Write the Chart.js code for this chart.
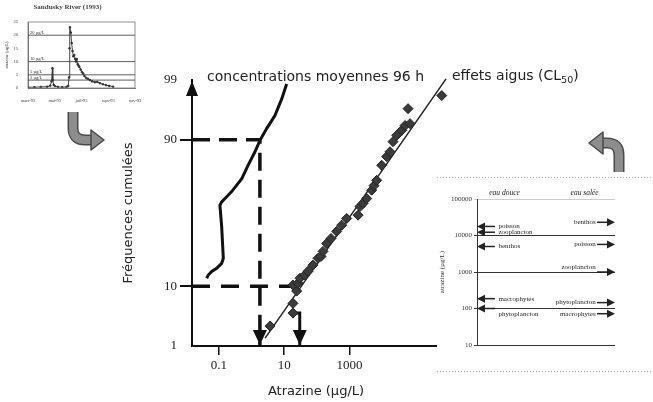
<!DOCTYPE html>
<html>
<head>
<meta charset="utf-8">
<script src="https://cdn.jsdelivr.net/npm/chart.js@4.4.0/dist/chart.umd.min.js"></script>
<style>
  html, body { margin: 0; padding: 0; background: #fff; }
  #wrap { position: relative; width: 653px; height: 402px; overflow: hidden; }
  canvas { position: absolute; }
  #main { left: 0; top: 0; }
  #river { left: 0; top: 0; }
  #effects { left: 437px; top: 177px; background: #fff; }
</style>
</head>
<body>
<div id="wrap">
  <canvas id="main" width="653" height="402"></canvas>
  <canvas id="river" width="155" height="108"></canvas>
  <canvas id="effects" width="216" height="196"></canvas>
</div>
<script>
// --- main chart: cumulative frequencies (%) vs atrazine (µg/L) ---
const concValues = [0.042, 0.047, 0.060, 0.085, 0.121, 0.136, 0.121, 0.107, 0.121, 0.153, 0.245, 0.50, 0.78, 1.27, 1.81, 2.9, 5.2, 8.4, 11.9];
const concFreq   = [12.7, 13.9, 15.3, 16.7, 18.9, 21.4, 40.7, 55.4, 57.7, 60.0, 64.6, 72.6, 79.8, 85.8, 89.8, 93.0, 95.6, 97.7, 98.8];

const lc50Values = [3.7, 18.6, 18.6, 24.2, 18.6, 26.5, 30.5, 43, 54, 76, 109, 135, 155, 201, 273, 408, 580, 826, 1840, 2115, 2610, 3395, 4830, 5690, 6870, 9790, 13900, 17600, 21700, 28200, 40200, 50800, 72300, 62800, 678000];
const lc50Freq   = [2.4, 4.0, 5.7, 8.6, 10.4, 11.0, 12.7, 13.9, 15.4, 18.1, 21.4, 22.4, 25.1, 29.7, 32.8, 37.4, 41.6, 46.2, 48.5, 54.5, 56.6, 60.0, 65.5, 68.4, 71.6, 79.8, 83.8, 85.8, 89.4, 91.3, 92.6, 93.7, 94.1, 96.6, 98.0];

const fitValues = [2.6, 920000];
const fitFreq   = [1.43, 99.05];

const freqTicks = [1, 10, 90, 99];
const xTickValues = [0.1, 10, 1000];
const xMin = 0.0149, xMax = 600000;

const conc90 = 1.8;          // concentration reached by 90 % of the 96 h means
const tox10 = 21.4;          // toxicity at 10 %
const hc5Values = [18.6, 30];
const hc5Freq = 4.0;

// --- inset: Sandusky River (1993) ---
const riverDays = [0, 15, 30, 45, 52, 55, 57, 58, 60, 63, 70, 80, 90, 94, 96, 97, 98, 100, 102, 104, 106, 108, 110, 112, 114, 116, 118, 120, 123, 126, 129, 132, 136, 140, 145, 150, 156, 162, 168, 175, 182, 190, 199];
const riverConc = [0.3, 0.3, 0.4, 0.5, 0.9, 2.5, 7.5, 3, 1.2, 0.7, 0.4, 0.3, 0.4, 0.8, 4, 15, 23, 21, 17, 14, 12, 12.5, 11, 10, 11, 9, 8.5, 8, 7, 6, 5.5, 4.5, 3.8, 3.5, 3, 2.5, 2.2, 2.3, 1.8, 1.4, 1.1, 0.8, 0.5];
const riverLevels = [20, 10, 5, 3];
const riverLevelLabels = ['20 µg/L', '10 µg/L', '5 µg/L', '3 µg/L'];
const riverTickDays = [0, 62.5, 125, 187.5, 250];
const riverTickLabels = ['mars-93', 'mai-93', 'juil-93', 'sept-93', 'nov-93'];

// --- inset: acute effects, eau douce / eau salée ---
const fwGroups = ['poisson', 'zooplancton', 'benthos', 'macrophytes', 'phytoplancton'];
const fwLC50   = [17700, 12300, 5000, 186, 100];
const swGroups = ['benthos', 'poisson', 'zooplancton', 'phytoplancton', 'macrophytes'];
const swLC50   = [23000, 5700, 1000, 145, 72];
const effTicks = [10, 100, 1000, 10000, 100000];

// inverse normal CDF (probability paper)
function probit(p) {
  const a = [-39.69683028665376, 220.9460984245205, -275.9285104469687, 138.3577518672690, -30.66479806614716, 2.506628277459239];
  const b = [-54.47609879822406, 161.5858368580409, -155.6989798598866, 66.80131188771972, -13.28068155288572];
  const c = [-0.007784894002430293, -0.3223964580411365, -2.400758277161838, -2.549732539343734, 4.374664141464968, 2.938163982698783];
  const d = [0.007784695709041462, 0.3224671290700398, 2.445134137142996, 3.754408661907416];
  const pl = 0.02425;
  let q, r;
  if (p < pl) {
    q = Math.sqrt(-2 * Math.log(p));
    return (((((c[0]*q+c[1])*q+c[2])*q+c[3])*q+c[4])*q+c[5]) / ((((d[0]*q+d[1])*q+d[2])*q+d[3])*q+1);
  }
  if (p > 1 - pl) {
    q = Math.sqrt(-2 * Math.log(1 - p));
    return -(((((c[0]*q+c[1])*q+c[2])*q+c[3])*q+c[4])*q+c[5]) / ((((d[0]*q+d[1])*q+d[2])*q+d[3])*q+1);
  }
  q = p - 0.5; r = q * q;
  return (((((a[0]*r+a[1])*r+a[2])*r+a[3])*r+a[4])*r+a[5])*q / (((((b[0]*r+b[1])*r+b[2])*r+b[3])*r+b[4])*r+1);
}
const toZ = pct => probit(pct / 100);
const pts = (xs, ps) => xs.map((x, i) => ({ x: x, y: toZ(ps[i]) }));

function downHead(ctx, x, y) {
  ctx.beginPath();
  ctx.moveTo(x, y);
  ctx.lineTo(x - 7, y - 15);
  ctx.lineTo(x + 7, y - 15);
  ctx.closePath();
  ctx.fill();
}

function bentArrow(ctx, shaft, head) {
  ctx.save();
  ctx.lineCap = 'butt';
  ctx.lineJoin = 'round';
  ctx.strokeStyle = '#4a4a4a';
  ctx.lineWidth = 11;
  shaft(ctx); ctx.stroke();
  ctx.strokeStyle = '#8d8d8d';
  ctx.lineWidth = 8;
  shaft(ctx); ctx.stroke();
  head(ctx);
  ctx.fillStyle = '#8d8d8d';
  ctx.fill();
  ctx.strokeStyle = '#4a4a4a';
  ctx.lineWidth = 1.5;
  ctx.stroke();
  ctx.restore();
}

const mainDecor = {
  id: 'mainDecor',
  afterDraw(chart) {
    const ctx = chart.ctx, xs = chart.scales.x, ys = chart.scales.y;
    const area = chart.chartArea;
    ctx.save();
    ctx.fillStyle = '#111';
    // arrow at the top of the y axis
    ctx.beginPath();
    ctx.moveTo(area.left, area.top + 1);
    ctx.lineTo(area.left - 6, area.top + 16);
    ctx.lineTo(area.left + 6, area.top + 16);
    ctx.closePath();
    ctx.fill();
    // arrow heads on the x axis
    downHead(ctx, xs.getPixelForValue(conc90), ys.getPixelForValue(toZ(1)) - 1);
    downHead(ctx, xs.getPixelForValue(hc5Values[1]), ys.getPixelForValue(toZ(1)) - 1);

    ctx.fillStyle = '#222';
    ctx.textBaseline = 'middle';
    ctx.font = '14px "DejaVu Sans"';
    ctx.fillText('concentrations moyennes 96 h', 207, 77);
    let x = 452;
    ctx.fillText('effets aigus (CL', x, 76);
    x += ctx.measureText('effets aigus (CL').width;
    ctx.font = '9.5px "DejaVu Sans"';
    ctx.fillText('50', x, 81);
    x += ctx.measureText('50').width;
    ctx.font = '14px "DejaVu Sans"';
    ctx.fillText(')', x, 76);

    // bent arrows next to the insets
    bentArrow(ctx, c => {
      c.beginPath(); c.moveTo(73, 112); c.lineTo(73, 128);
      c.quadraticCurveTo(73, 140, 85, 140); c.lineTo(92, 140);
    }, c => {
      c.beginPath(); c.moveTo(104, 140); c.lineTo(91, 130); c.lineTo(91, 150); c.closePath();
    });
    bentArrow(ctx, c => {
      c.beginPath(); c.moveTo(619, 172); c.lineTo(619, 155);
      c.quadraticCurveTo(619, 143, 607, 143); c.lineTo(602, 143);
    }, c => {
      c.beginPath(); c.moveTo(589, 143); c.lineTo(603, 132); c.lineTo(603, 154); c.closePath();
    });
    ctx.restore();
  }
};

new Chart(document.getElementById('main'), {
  type: 'scatter',
  data: {
    datasets: [
      { data: pts(concValues, concFreq), showLine: true, borderColor: '#111', borderWidth: 3, pointRadius: 0, clip: false },
      { data: pts(lc50Values, lc50Freq), pointStyle: 'rectRot', pointRadius: 5, backgroundColor: '#3b3b3b', borderColor: '#222', borderWidth: 1, clip: false },
      { data: pts(fitValues, fitFreq), showLine: true, borderColor: '#222', borderWidth: 1.5, pointRadius: 0, clip: false },
      { data: [{ x: xMin, y: toZ(90) }, { x: conc90, y: toZ(90) }, { x: conc90, y: toZ(1) }], showLine: true, borderColor: '#111', borderWidth: 3.5, borderDash: [18, 9], pointRadius: 0 },
      { data: [{ x: xMin, y: toZ(10) }, { x: tox10, y: toZ(10) }], showLine: true, borderColor: '#111', borderWidth: 3.5, borderDash: [18, 11], pointRadius: 0 },
      { data: [{ x: hc5Values[0], y: toZ(hc5Freq) }, { x: hc5Values[1], y: toZ(hc5Freq) }, { x: hc5Values[1], y: toZ(1) }], showLine: true, borderColor: '#111', borderWidth: 3, pointRadius: 0 }
    ]
  },
  options: {
    responsive: false,
    animation: false,
    events: [],
    layout: { padding: { left: 118, top: 80, right: 213, bottom: 2 } },
    plugins: { legend: { display: false }, tooltip: { enabled: false } },
    scales: {
      x: {
        type: 'logarithmic',
        min: xMin,
        max: xMax,
        afterBuildTicks: s => { s.ticks = xTickValues.map(v => ({ value: v })); },
        afterFit: s => { s.height = 54; },
        ticks: { callback: v => String(v), font: { family: 'Liberation Serif', size: 13 }, color: '#222', padding: 3, maxRotation: 0, autoSkip: false },
        grid: { drawOnChartArea: false, tickLength: 9, color: '#111', lineWidth: 1.5 },
        border: { color: '#111', width: 2 },
        title: { display: true, text: 'Atrazine (µg/L)', font: { family: 'DejaVu Sans', size: 13 }, color: '#222', padding: { top: 0, bottom: 1 } }
      },
      y: {
        min: toZ(1),
        max: toZ(99),
        afterBuildTicks: s => { s.ticks = freqTicks.map(p => ({ value: toZ(p) })); },
        afterFit: s => { s.width = 192 - 118; },
        ticks: { callback: (v, i) => String(freqTicks[i]), font: { family: 'Liberation Serif', size: 13 }, color: '#222', padding: 3, autoSkip: false },
        grid: {
          drawOnChartArea: false,
          tickLength: 12,
          lineWidth: 2,
          color: c => (c.index === 1 || c.index === 2) ? '#111' : 'rgba(0,0,0,0)'
        },
        border: { color: '#111', width: 2 },
        title: { display: true, text: 'Fréquences cumulées', font: { family: 'DejaVu Sans', size: 13 }, color: '#222', padding: { top: 3, bottom: 0 } }
      }
    }
  },
  plugins: [mainDecor]
});

// --- top-left inset ---
const riverDecor = {
  id: 'riverDecor',
  afterDatasetsDraw(chart) {
    const ctx = chart.ctx, ys = chart.scales.y, a = chart.chartArea;
    ctx.save();
    ctx.strokeStyle = '#777';
    ctx.lineWidth = 0.8;
    ctx.strokeRect(a.left, a.top, a.right - a.left, a.bottom - a.top);
    ctx.strokeStyle = '#333';
    ctx.fillStyle = '#333';
    ctx.font = '4.5px "Liberation Serif"';
    ctx.textBaseline = 'bottom';
    riverLevels.forEach((v, i) => {
      const y = ys.getPixelForValue(v);
      ctx.beginPath(); ctx.moveTo(a.left, y); ctx.lineTo(a.right, y); ctx.stroke();
      ctx.fillText(riverLevelLabels[i], a.left + 2, y - 0.5);
    });
    ctx.restore();
  }
};

new Chart(document.getElementById('river'), {
  type: 'scatter',
  data: {
    datasets: [{
      data: riverDays.map((d, i) => ({ x: d, y: riverConc[i] })),
      showLine: true, borderColor: '#333', borderWidth: 0.9,
      pointStyle: 'rect', pointRadius: 1, backgroundColor: '#333'
    }]
  },
  options: {
    responsive: false,
    animation: false,
    events: [],
    layout: { padding: { left: 0, top: 0, right: 20, bottom: 0 } },
    plugins: {
      legend: { display: false }, tooltip: { enabled: false },
      title: { display: true, text: 'Sandusky River (1993)', font: { family: 'Liberation Serif', size: 7, weight: 'bold' }, color: '#444', padding: { top: 3, bottom: 10.6 } }
    },
    scales: {
      x: {
        type: 'linear', min: 0, max: 250,
        afterBuildTicks: s => { s.ticks = riverTickDays.map(v => ({ value: v })); },
        afterFit: s => { s.height = 20; },
        ticks: { callback: (v, i) => riverTickLabels[i], font: { family: 'Liberation Serif', size: 4.5 }, color: '#444', padding: 2, maxRotation: 0, autoSkip: false },
        grid: { display: false },
        border: { color: '#555', width: 0.8 }
      },
      y: {
        min: 0, max: 25,
        ticks: { stepSize: 5, font: { family: 'Liberation Serif', size: 4.5 }, color: '#444', padding: 2 },
        afterFit: s => { s.width = 28; },
        grid: { display: false },
        border: { color: '#555', width: 0.8 },
        title: { display: true, text: 'atrazine (µg/L)', font: { family: 'Liberation Serif', size: 4.5 }, color: '#444', padding: { top: 4, bottom: 0 } }
      }
    }
  },
  plugins: [riverDecor]
});

// --- right inset ---
function headAt(ctx, x, y, dir) {
  ctx.beginPath();
  ctx.moveTo(x, y);
  ctx.lineTo(x - dir * 8, y - 4);
  ctx.lineTo(x - dir * 8, y + 4);
  ctx.closePath();
  ctx.fill();
}

const effectsDecor = {
  id: 'effectsDecor',
  beforeDraw(chart) {
    const ctx = chart.ctx;
    ctx.save();
    ctx.strokeStyle = '#aaa';
    ctx.lineWidth = 1;
    ctx.setLineDash([1, 2]);
    ctx.beginPath();
    ctx.moveTo(0, 0.5); ctx.lineTo(chart.width, 0.5);
    ctx.moveTo(0, chart.height - 1.5); ctx.lineTo(chart.width, chart.height - 1.5);
    ctx.stroke();
    ctx.restore();
  },
  afterDatasetsDraw(chart) {
    const ctx = chart.ctx, xs = chart.scales.x, ys = chart.scales.y;
    const isDecade = v => Math.abs(Math.log10(v) - Math.round(Math.log10(v))) < 1e-9;
    ctx.save();
    ctx.strokeStyle = '#222';
    ctx.fillStyle = '#222';
    ctx.lineWidth = 1.5;
    ctx.font = 'italic 7.5px "Liberation Serif"';
    ctx.textAlign = 'center';
    ctx.textBaseline = 'middle';
    ctx.fillText('eau douce', xs.getPixelForValue(0.2), 16);
    ctx.fillText('eau salée', xs.getPixelForValue(0.78), 16);
    ctx.font = '7px "Liberation Serif"';
    fwLC50.forEach((v, i) => {
      const y = ys.getPixelForValue(v);
      const x0 = xs.getPixelForValue(0), x1 = xs.getPixelForValue(0.13);
      ctx.beginPath(); ctx.moveTo(x0 + 4, y); ctx.lineTo(x1, y); ctx.stroke();
      headAt(ctx, x0, y, -1);
      ctx.textAlign = 'left';
      ctx.fillText(fwGroups[i], xs.getPixelForValue(0.155), isDecade(v) ? y + 6 : y);
    });
    swLC50.forEach((v, i) => {
      const y = ys.getPixelForValue(v);
      const x0 = xs.getPixelForValue(0.87), x1 = xs.getPixelForValue(1);
      ctx.beginPath(); ctx.moveTo(x0, y); ctx.lineTo(x1 - 4, y); ctx.stroke();
      headAt(ctx, x1, y, 1);
      ctx.textAlign = 'right';
      ctx.fillText(swGroups[i], xs.getPixelForValue(0.86), isDecade(v) ? y - 5 : y);
    });
    ctx.restore();
  }
};

new Chart(document.getElementById('effects'), {
  type: 'scatter',
  data: { datasets: [] },
  options: {
    responsive: false,
    animation: false,
    events: [],
    layout: { padding: { left: 0, top: 22, right: 38, bottom: 28 } },
    plugins: { legend: { display: false }, tooltip: { enabled: false } },
    scales: {
      x: { type: 'linear', min: 0, max: 1, display: false },
      y: {
        type: 'logarithmic', min: 10, max: 100000,
        afterBuildTicks: s => { s.ticks = effTicks.map(v => ({ value: v })); },
        afterFit: s => { s.width = 40; },
        ticks: { callback: v => String(v), font: { family: 'Liberation Serif', size: 7 }, color: '#333', padding: 2, autoSkip: false },
        grid: { color: c => c.index === 4 ? '#ccc' : '#333', lineWidth: 1, tickLength: 3 },
        border: { color: '#333', width: 1 },
        title: { display: true, text: 'atrazine (µg/L)', font: { family: 'Liberation Serif', size: 7 }, color: '#333', padding: { top: 1, bottom: 0 } }
      }
    }
  },
  plugins: [effectsDecor]
});
</script>
</body>
</html>
